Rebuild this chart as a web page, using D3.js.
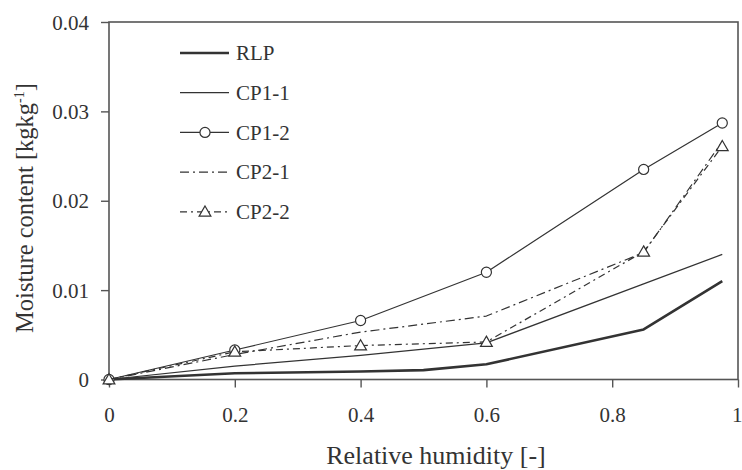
<!DOCTYPE html>
<html>
<head>
<meta charset="utf-8">
<script src="https://cdn.jsdelivr.net/npm/d3@7"></script>
<style>
  body { margin: 0; background: #fff; }
  svg text { font-family: "Liberation Serif", "DejaVu Serif", serif; fill: #333; }
</style>
</head>
<body>
<div id="chart"></div>
<script>
// values
const xTicks = [0, 0.2, 0.4, 0.6, 0.8, 1];
const yTicks = [0, 0.01, 0.02, 0.03, 0.04];
const rh = [0, 0.2, 0.4, 0.6, 0.85, 0.975];
const rhRLP = [0, 0.2, 0.4, 0.5, 0.6, 0.85, 0.975];
const rlp = [0, 0.0007, 0.0009, 0.00105, 0.0017, 0.0056, 0.011];
const cp11 = [0, 0.0015, 0.0027, 0.0041, 0.0107, 0.014];
const cp12 = [0, 0.0033, 0.0066, 0.012, 0.0235, 0.0287];
const cp21 = [0, 0.0028, 0.0053, 0.0071, 0.0142, 0.0266];
const cp22 = [0, 0.0031, 0.0038, 0.0042, 0.0143, 0.0261];
const seriesNames = ["RLP", "CP1-1", "CP1-2", "CP2-1", "CP2-2"];

const series = [
  {name: seriesNames[0], x: rhRLP, y: rlp, width: 2.6, dash: null, marker: null},
  {name: seriesNames[1], x: rh, y: cp11, width: 1.2, dash: null, marker: null},
  {name: seriesNames[2], x: rh, y: cp12, width: 1.2, dash: null, marker: "circle"},
  {name: seriesNames[3], x: rh, y: cp21, width: 1.2, dash: "9,4,2,4", marker: null},
  {name: seriesNames[4], x: rh, y: cp22, width: 1.2, dash: "7,4,2,4", marker: "triangle"}
];

const W = 742, H = 470;
const margin = {top: 22, right: 4, bottom: 90.5, left: 109};
const width = W - margin.left - margin.right;
const height = H - margin.top - margin.bottom;
const ink = "#333";
const axisInk = "#555";

const svg = d3.select("#chart").append("svg")
  .attr("width", W).attr("height", H);
const g = svg.append("g")
  .attr("transform", "translate(" + margin.left + "," + margin.top + ")");

const x = d3.scaleLinear().domain([0, 1]).range([0, width]);
const y = d3.scaleLinear().domain([0, 0.04]).range([height, 0]);

// frame
g.append("rect")
  .attr("x", 0).attr("y", 0).attr("width", width).attr("height", height)
  .attr("fill", "none").attr("stroke", axisInk).attr("stroke-width", 1.6);

const xAxis = g.append("g")
  .attr("transform", "translate(0," + height + ")")
  .call(d3.axisBottom(x).tickValues(xTicks).tickFormat(d3.format("")).tickSize(8).tickPadding(20).tickSizeOuter(0));
const yAxis = g.append("g")
  .call(d3.axisLeft(y).tickValues(yTicks).tickFormat(d3.format("")).tickSize(8).tickPadding(12).tickSizeOuter(0));

[xAxis, yAxis].forEach(a => {
  a.select(".domain").remove();
  a.selectAll("line").attr("stroke", axisInk).attr("stroke-width", 1.4);
  a.selectAll("text")
    .attr("font-family", "Liberation Serif, serif")
    .attr("font-size", 21).attr("fill", ink);
});
yAxis.selectAll("text").attr("dy", "0.34em");
// keep the "1" label inside the picture
xAxis.selectAll(".tick:last-of-type text").attr("text-anchor", "end").attr("dx", 4);

// axis titles
svg.append("text")
  .attr("x", 436).attr("y", 464)
  .attr("text-anchor", "middle")
  .attr("font-size", 26)
  .text("Relative humidity [-]");

const yt = svg.append("text")
  .attr("transform", "translate(33,208) rotate(-90)")
  .attr("text-anchor", "middle")
  .attr("font-size", 24.5);
yt.append("tspan").text("Moisture content [kgkg");
yt.append("tspan").attr("font-size", 14).attr("dy", -9).text("-1");
yt.append("tspan").attr("dy", 9).text("]");

// lines
const line = d3.line().x(d => x(d[0])).y(d => y(d[1]));

series.forEach(s => {
  const pts = s.x.map((v, i) => [v, s.y[i]]);
  g.append("path")
    .datum(pts)
    .attr("d", line)
    .attr("fill", "none")
    .attr("stroke", ink)
    .attr("stroke-width", s.width)
    .attr("stroke-linejoin", "round")
    .attr("stroke-dasharray", s.dash);
  if (s.marker) drawMarkers(g, pts.map(p => [x(p[0]), y(p[1])]), s.marker);
});

function drawMarkers(sel, pts, type) {
  const sym = d3.symbol().type(type === "circle" ? d3.symbolCircle : d3.symbolTriangle)
    .size(type === "circle" ? 80 : 60);
  sel.selectAll(null)
    .data(pts)
    .enter().append("path")
    .attr("d", sym)
    .attr("transform", d => "translate(" + d[0] + "," + (type === "triangle" ? d[1] + 1 : d[1]) + ")")
    .attr("fill", "#fff")
    .attr("stroke", ink)
    .attr("stroke-width", 1.2);
}

// legend
const legend = svg.append("g").attr("transform", "translate(180,53)");
series.forEach((s, i) => {
  const row = legend.append("g").attr("transform", "translate(0," + i * 39.7 + ")");
  row.append("line")
    .attr("x1", 0).attr("x2", 49).attr("y1", 0).attr("y2", 0)
    .attr("stroke", ink).attr("stroke-width", s.width)
    .attr("stroke-dasharray", s.dash);
  if (s.marker) drawMarkers(row, [[25, 0]], s.marker);
  row.append("text")
    .attr("x", 56).attr("y", 0).attr("dy", "0.35em")
    .attr("font-size", 21)
    .text(s.name);
});
</script>
</body>
</html>
